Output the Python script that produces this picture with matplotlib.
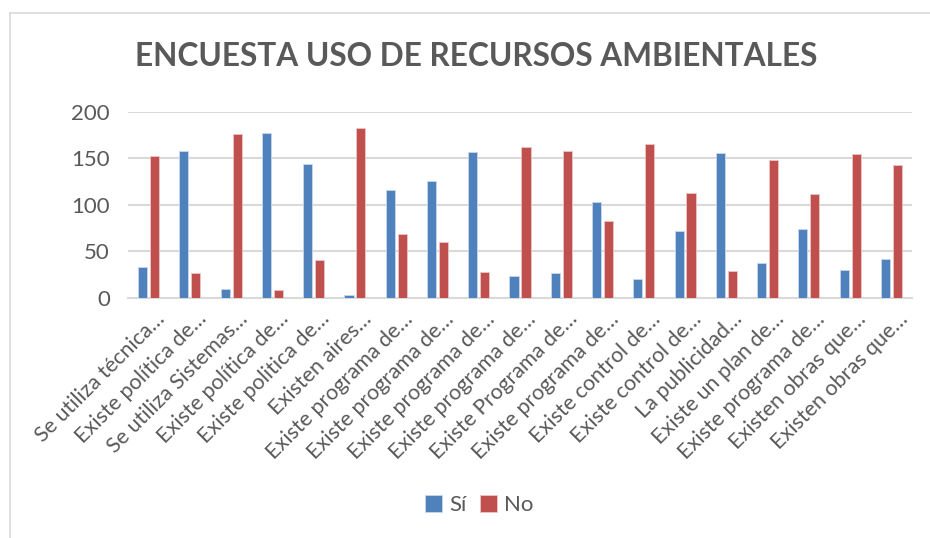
import matplotlib
matplotlib.use("Agg")
import matplotlib.pyplot as plt
import matplotlib.transforms as mtransforms
from matplotlib.lines import Line2D
import numpy as np

categories = [
    "Se utiliza técnica…", "Existe política de…", "Se utiliza Sistemas…",
    "Existe política de…", "Existe politica de…", "Existen aires…",
    "Existe programa de…", "Existe programa de…", "Existe programa de…",
    "Existe programa de…", "Existe Programa de…", "Existe programa de…",
    "Existe control de…", "Existe control de…", "La publicidad…",
    "Existe un plan de…", "Existe programa de…", "Existen obras que…",
    "Existen obras que…",
]
si_values = [33, 158, 9, 177, 144, 3, 116, 126, 157, 23, 27, 103, 20, 72, 156, 37, 74, 30, 42]
no_values = [152, 27, 176, 8, 41, 182, 69, 60, 28, 162, 158, 82, 165, 113, 29, 148, 111, 155, 143]
yticks = [0, 50, 100, 150, 200]

plt.rcParams['font.family'] = ['Lato', 'DejaVu Sans']
gray = '#595959'

fig = plt.figure(figsize=(9.3, 5.38), dpi=100)
ax = fig.add_axes([128/930, 1 - 297.7/538, (912-128)/930, (297.7-111.7)/538])

x = np.arange(len(categories))
w = 0.22
off = 0.145
ax.bar(x - off, si_values, w, color='#4f81bd', edgecolor='#c9d7ea', linewidth=0.6, label='Sí', zorder=3)
ax.bar(x + off, no_values, w, color='#c0504d', edgecolor='#ecc6c5', linewidth=0.6, label='No', zorder=3)

ax.set_xlim(-0.5, len(categories) - 0.5)
ax.set_ylim(0, 200)
ax.set_yticks(yticks)
ax.yaxis.grid(True, color='#d9d9d9', linewidth=1.5, zorder=0)
for s in ['top', 'right', 'left']:
    ax.spines[s].set_visible(False)
ax.spines['bottom'].set_color('#d9d9d9')
ax.spines['bottom'].set_linewidth(1.5)
ax.tick_params(axis='both', length=0, colors=gray, labelsize=16)
ax.tick_params(axis='y', pad=13)
ax.set_xticks(x)
ax.set_xticklabels(categories, rotation=45, ha='right', rotation_mode='anchor', fontsize=15.5, color=gray)
ax.tick_params(axis='x', pad=8)
shift = mtransforms.ScaledTranslation(6/100, 0, fig.dpi_scale_trans)
for lab in ax.get_xticklabels():
    lab.set_transform(lab.get_transform() + shift)

fig.text(476/930, 1 - 56/538, "ENCUESTA USO DE RECURSOS AMBIENTALES", ha='center', va='center',
         fontsize=22.8, fontweight='bold', color=gray)

leg = fig.legend(loc='center', bbox_to_anchor=(479/930, 1 - 505/538), ncol=2, frameon=False,
                 fontsize=16, handlelength=0.8, handleheight=0.8, handletextpad=0.3, columnspacing=0.6,
                 labelcolor=gray)

border = '#d9d9d9'
fig.add_artist(Line2D([10/930, 1], [1 - 13/538, 1 - 13/538], transform=fig.transFigure, color=border, linewidth=1.2))
fig.add_artist(Line2D([10/930, 10/930], [0, 1 - 13/538], transform=fig.transFigure, color=border, linewidth=1.2))

fig.savefig('out.png', dpi=100)
